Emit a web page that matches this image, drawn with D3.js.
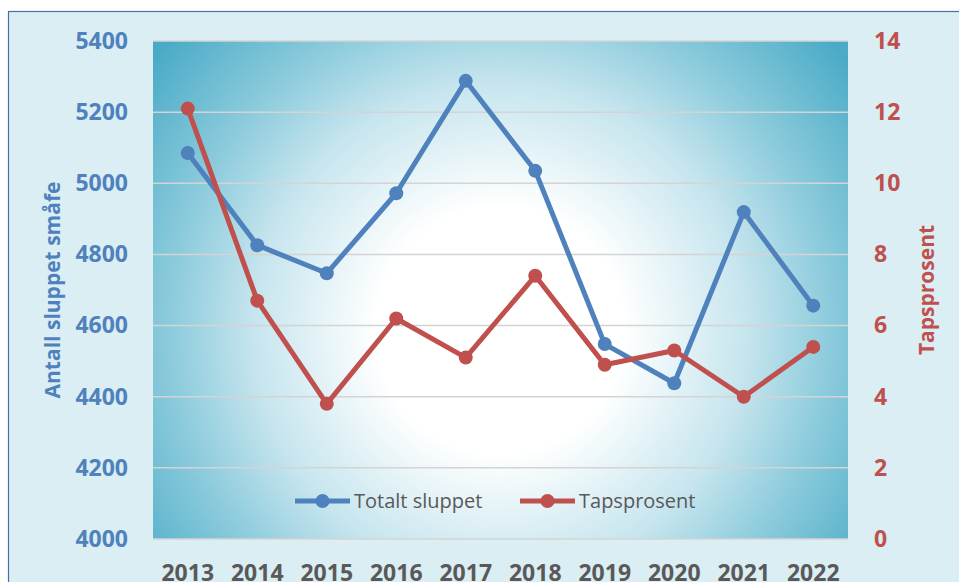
<!DOCTYPE html>
<html>
<head>
<meta charset="utf-8">
<script src="https://cdn.jsdelivr.net/npm/d3@7"></script>
<style>
  body { margin: 0; background: #ffffff; }
  svg { display: block; font-family: "Open Sans", "DejaVu Sans", sans-serif; }
</style>
</head>
<body>
<div id="chart"></div>
<script>
// Kategorier og verdier lest av figuren
const years = ['2013', '2014', '2015', '2016', '2017', '2018', '2019', '2020', '2021', '2022'];
const totaltSluppet = [5085, 4826, 4747, 4972, 5288, 5035, 4548, 4438, 4919, 4656];
const tapsprosent = [12.1, 6.7, 3.8, 6.2, 5.1, 7.4, 4.9, 5.3, 4.0, 5.4];
const leftTicks = [4000, 4200, 4400, 4600, 4800, 5000, 5200, 5400];
const rightTicks = [0, 2, 4, 6, 8, 10, 12, 14];
const seriesNames = ['Totalt sluppet', 'Tapsprosent'];

const blue = '#4f81bd', red = '#c0504d', grey = '#595959';

createChart('#chart');

function createChart(selector) {
    const width = 959, height = 582;
    const plot = { left: 153, top: 41, right: 848, bottom: 539 };

    const svg = d3.select(selector)
                  .append('svg')
                  .attr('width', width)
                  .attr('height', height);

    // Diagramomraade med ramme
    svg.append('rect')
       .attr('x', 8.5).attr('y', 11.5)
       .attr('width', width + 5).attr('height', height + 5)
       .attr('fill', '#daeef3')
       .attr('stroke', '#4a6fa5')
       .attr('stroke-width', 1.2);

    // Radiell gradient for plottomraadet (hvit midt, turkis i hjornene)
    const grad = svg.append('defs').append('radialGradient')
                    .attr('id', 'plotGrad')
                    .attr('gradientUnits', 'userSpaceOnUse')
                    .attr('cx', 500).attr('cy', 330).attr('r', 440);
    [[0, '#ffffff'], [0.28, '#ffffff'], [0.56, '#c6e5ee'], [0.75, '#8ccbdc'], [1, '#4aabc7']]
        .forEach(s => grad.append('stop').attr('offset', s[0]).attr('stop-color', s[1]));

    svg.append('rect')
       .attr('x', plot.left).attr('y', plot.top)
       .attr('width', plot.right - plot.left).attr('height', plot.bottom - plot.top)
       .attr('fill', 'url(#plotGrad)');

    // Skalaer
    const x = d3.scaleBand().domain(years).range([plot.left, plot.right]);
    const yLeft = d3.scaleLinear().domain([4000, 5400]).range([plot.bottom, plot.top]);
    const yRight = d3.scaleLinear().domain([0, 14]).range([plot.bottom, plot.top]);
    const cx = d => x(d) + x.bandwidth() / 2;

    // Rutenett
    svg.append('g')
       .selectAll('line')
       .data(leftTicks)
       .enter().append('line')
       .attr('x1', plot.left).attr('x2', plot.right)
       .attr('y1', d => yLeft(d)).attr('y2', d => yLeft(d))
       .attr('stroke', '#d4d4d4')
       .attr('stroke-width', 1.5);

    // Venstre akse
    const leftAxis = svg.append('g')
       .attr('transform', `translate(128,0)`)
       .call(d3.axisLeft(yLeft).tickValues(leftTicks).tickFormat(d3.format('d')).tickSize(0).tickPadding(0));
    leftAxis.select('.domain').remove();
    leftAxis.selectAll('text')
       .attr('fill', blue)
       .style('font-size', '23px')
       .style('font-weight', 'bold')
       .style('font-family', '"Open Sans", sans-serif');

    // Hoyre akse
    const rightAxis = svg.append('g')
       .attr('transform', `translate(874,0)`)
       .call(d3.axisRight(yRight).tickValues(rightTicks).tickFormat(d3.format('d')).tickSize(0).tickPadding(0));
    rightAxis.select('.domain').remove();
    rightAxis.selectAll('text')
       .attr('fill', red)
       .style('font-size', '23px')
       .style('font-weight', 'bold')
       .style('font-family', '"Open Sans", sans-serif');

    // X-akse (aarstall)
    const xAxis = svg.append('g')
       .attr('transform', `translate(0,${plot.bottom})`)
       .call(d3.axisBottom(x).tickSize(0).tickPadding(26));
    xAxis.select('.domain').remove();
    xAxis.selectAll('text')
       .attr('fill', grey)
       .style('font-size', '23px')
       .style('font-weight', 'bold')
       .style('font-family', '"Open Sans", sans-serif');

    // Aksetitler
    svg.append('text')
       .attr('transform', 'translate(52,290) rotate(-90)')
       .attr('text-anchor', 'middle')
       .attr('dominant-baseline', 'central')
       .attr('fill', blue)
       .style('font-size', '21px')
       .style('font-weight', 'bold')
       .text('Antall sluppet småfe');

    svg.append('text')
       .attr('transform', 'translate(926,290) rotate(-90)')
       .attr('text-anchor', 'middle')
       .attr('dominant-baseline', 'central')
       .attr('fill', red)
       .style('font-size', '21px')
       .style('font-weight', 'bold')
       .text('Tapsprosent');

    // Linjer og markorer
    const series = [
        { values: totaltSluppet, y: yLeft, color: blue },
        { values: tapsprosent, y: yRight, color: red }
    ];

    series.forEach(s => {
        const line = d3.line()
                       .x((d, i) => cx(years[i]))
                       .y(d => s.y(d));
        svg.append('path')
           .datum(s.values)
           .attr('d', line)
           .attr('fill', 'none')
           .attr('stroke', s.color)
           .attr('stroke-width', 5)
           .attr('stroke-linejoin', 'round');
        svg.append('g')
           .selectAll('circle')
           .data(s.values)
           .enter().append('circle')
           .attr('cx', (d, i) => cx(years[i]))
           .attr('cy', d => s.y(d))
           .attr('r', 7)
           .attr('fill', s.color);
    });

    // Forklaring
    const legendX = [295, 520];
    const legend = svg.append('g')
                      .selectAll('g')
                      .data(seriesNames)
                      .enter().append('g')
                      .attr('transform', (d, i) => `translate(${legendX[i]},501)`);
    legend.append('line')
          .attr('x1', 0).attr('x2', 55)
          .attr('stroke', (d, i) => series[i].color)
          .attr('stroke-width', 5);
    legend.append('circle')
          .attr('cx', 27.5)
          .attr('r', 7)
          .attr('fill', (d, i) => series[i].color);
    legend.append('text')
          .attr('x', 59)
          .attr('dy', '0.35em')
          .attr('fill', grey)
          .style('font-size', '20px')
          .text(d => d);
}
</script>
</body>
</html>
